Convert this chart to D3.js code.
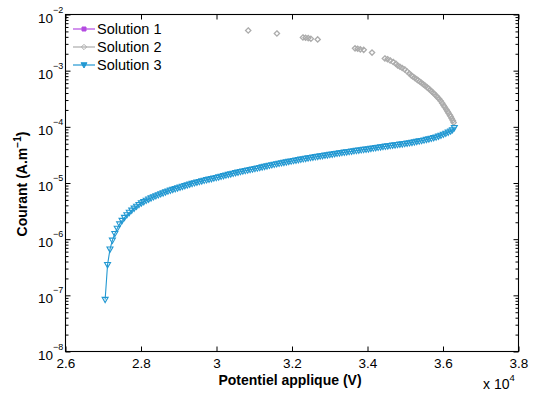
<!DOCTYPE html>
<html><head><meta charset="utf-8">
<script src="https://cdn.jsdelivr.net/npm/d3@7"></script>
<style>
body{margin:0;background:#fff}
svg{display:block}
text{font-family:"Liberation Sans",Arial,Helvetica,sans-serif;fill:#000}
</style>
</head><body>
<svg id="chart" width="535" height="394"></svg>
<script>
// Series names and tick labels
const seriesNames = ["Solution 1", "Solution 2", "Solution 3"];
const xTicks = [26000, 28000, 30000, 32000, 34000, 36000, 38000];
const xTickLabels = ["2.6", "2.8", "3", "3.2", "3.4", "3.6", "3.8"];
const yTickExponents = [-8, -7, -6, -5, -4, -3, -2];

// Solution 3: potential (V) and current (A/m)
const potential3 = [
 27050,27114,27178,27242,27306,27370,27434,27498,27562,27626,27690,27754,27818,27882,27946,28010,
 28074,28138,28202,28266,28330,28394,28458,28522,28586,28650,28714,28778,28842,28906,28970,29034,
 29098,29162,29226,29290,29354,29418,29482,29546,29610,29674,29738,29802,29866,29930,29994,30058,
 30122,30186,30250,30314,30378,30442,30506,30570,30634,30698,30762,30826,30890,30954,31018,31082,
 31146,31210,31274,31338,31402,31466,31530,31594,31658,31722,31786,31850,31914,31978,32042,
 32106,32170,32234,32298,32362,32426,32490,32554,32618,32682,32746,32810,32874,32938,33002,
 33066,33130,33194,33258,33322,33386,33450,33514,33578,33642,33706,33770,33834,33898,33962,34026,
 34090,34154,34218,34282,34346,34410,34474,34538,34602,34666,34730,34794,34858,34922,34986,
 35050,35114,35178,35242,35306,35370,35434,35498,35562,35626,35690,35754,35818,
 35882,35946,36010,36074,36138,36202,36250,36300
];
const courant3 = [
 0.084e-6,0.35e-6,0.66e-6,0.95e-6,1.25e-6,1.55e-6,1.85e-6,2.14e-6,2.42e-6,2.70e-6,2.98e-6,3.26e-6,3.54e-6,3.82e-6,4.10e-6,4.38e-6,
 4.63e-6,4.88e-6,5.13e-6,5.38e-6,5.63e-6,5.88e-6,6.13e-6,6.38e-6,6.63e-6,6.88e-6,7.13e-6,7.38e-6,7.63e-6,7.88e-6,8.13e-6,8.38e-6,
 8.65e-6,8.92e-6,9.19e-6,9.46e-6,9.73e-6,10.0e-6,10.27e-6,10.54e-6,10.81e-6,11.08e-6,11.35e-6,11.62e-6,11.89e-6,12.16e-6,12.43e-6,12.70e-6,
 13.05e-6,13.40e-6,13.75e-6,14.10e-6,14.45e-6,14.80e-6,15.15e-6,15.50e-6,15.85e-6,16.20e-6,16.55e-6,16.90e-6,17.25e-6,17.60e-6,17.95e-6,18.30e-6,
 18.74e-6,19.18e-6,19.62e-6,20.06e-6,20.50e-6,20.94e-6,21.38e-6,21.82e-6,22.26e-6,22.70e-6,23.14e-6,23.58e-6,24.02e-6,24.46e-6,24.90e-6,
 25.37e-6,25.84e-6,26.31e-6,26.78e-6,27.25e-6,27.72e-6,28.19e-6,28.66e-6,29.13e-6,29.60e-6,30.07e-6,30.54e-6,31.01e-6,31.48e-6,31.95e-6,
 32.47e-6,32.99e-6,33.51e-6,34.03e-6,34.55e-6,35.07e-6,35.59e-6,36.11e-6,36.63e-6,37.15e-6,37.67e-6,38.19e-6,38.71e-6,39.23e-6,39.75e-6,40.27e-6,
 40.92e-6,41.57e-6,42.22e-6,42.87e-6,43.52e-6,44.17e-6,44.82e-6,45.47e-6,46.12e-6,46.77e-6,47.42e-6,48.07e-6,48.72e-6,49.37e-6,50.02e-6,
 50.82e-6,51.67e-6,52.57e-6,53.52e-6,54.52e-6,55.57e-6,56.67e-6,57.87e-6,59.17e-6,60.57e-6,62.07e-6,63.67e-6,65.37e-6,
 67.6e-6,70.1e-6,73.0e-6,76.2e-6,79.7e-6,83.4e-6,88.0e-6,96.0e-6
];

// Solution 2: potential (V) and current (A/m)
const potential2 = [
 30840,31600,32290,32360,32430,32500,32680,33670,33740,33810,33900,34120,
 34460,34530,34600,34680,34750,34800,34860,34920,34986,35050,35110,35160,35198,
 35250,35300,35340,35383,35430,35480,35530,35580,35620,35660,35700,35740,35780,
 35820,35860,35900,35940,35980,36018,36050,36090,36123,36150,36180,36203,36230,36260,36282
];
const courant2 = [
 5.2e-3,4.6e-3,3.9e-3,3.85e-3,3.8e-3,3.7e-3,3.6e-3,2.5e-3,2.45e-3,2.4e-3,2.35e-3,2.1e-3,
 1.65e-3,1.6e-3,1.52e-3,1.43e-3,1.33e-3,1.236e-3,1.175e-3,1.114e-3,1.05e-3,9.66e-4,8.87e-4,8.26e-4,7.87e-4,
 7.45e-4,7.05e-4,6.73e-4,6.41e-4,6.07e-4,5.71e-4,5.37e-4,5.05e-4,4.79e-4,4.52e-4,4.27e-4,4.03e-4,3.8e-4,
 3.56e-4,3.33e-4,3.13e-4,2.88e-4,2.64e-4,2.4e-4,2.23e-4,2.03e-4,1.87e-4,1.75e-4,1.62e-4,1.53e-4,1.41e-4,1.29e-4,1.19e-4
];

// Solution 1 has no plotted points, only its legend entry
const potential1 = [];
const courant1 = [];

const colors = ["#b44be1", "#acacac", "#2298d2"];

const svg = d3.select("#chart");
const plotLeft = 65.5, plotRight = 518.5, plotTop = 14.5, plotBottom = 351.5;

const x = d3.scaleLinear().domain([26000, 38000]).range([plotLeft, plotRight]);
const y = d3.scaleLog().domain([1e-8, 1e-2]).range([plotBottom, plotTop]);

// Marker shapes
const triangleDown = { draw(ctx, size) {
  const r = Math.sqrt(size) / 2;
  ctx.moveTo(-r, -r * 0.75); ctx.lineTo(r, -r * 0.75); ctx.lineTo(0, r); ctx.closePath();
}};
const diamond = { draw(ctx, size) {
  const r = Math.sqrt(size) / 2;
  ctx.moveTo(0, -r); ctx.lineTo(r, 0); ctx.lineTo(0, r); ctx.lineTo(-r, 0); ctx.closePath();
}};
const square = { draw(ctx, size) {
  const r = Math.sqrt(size) / 2;
  ctx.rect(-r, -r, 2 * r, 2 * r);
}};

// Axes box and ticks
const g = svg.append("g");
g.append("rect").attr("x", plotLeft).attr("y", plotTop).attr("width", plotRight - plotLeft).attr("height", plotBottom - plotTop)
  .attr("fill", "none").attr("stroke", "#000").attr("stroke-width", 1.1);

const xBottom = d3.axisBottom(x).tickValues(xTicks).tickSize(-5).tickPadding(7)
  .tickFormat((d, i) => xTickLabels[i]);
const gxb = g.append("g").attr("transform", `translate(0,${plotBottom})`).call(xBottom);
gxb.select(".domain").remove();
gxb.selectAll("text").attr("font-size", 13.5).attr("font-family", "Liberation Sans, Arial, sans-serif");

const xTop = d3.axisTop(x).tickValues(xTicks).tickSize(-5).tickFormat("");
const gxt = g.append("g").attr("transform", `translate(0,${plotTop})`).call(xTop);
gxt.select(".domain").remove();

const majorY = yTickExponents.map(e => Math.pow(10, e));
const minorY = [];
yTickExponents.slice(0, -1).forEach(e => { for (let k = 2; k <= 9; k++) minorY.push(k * Math.pow(10, e)); });

[[d3.axisLeft, plotLeft], [d3.axisRight, plotRight]].forEach(([axisFn, pos]) => {
  const major = g.append("g").attr("transform", `translate(${pos},0)`)
    .call(axisFn(y).tickValues(majorY).tickSize(-5).tickFormat(""));
  major.select(".domain").remove();
  const minor = g.append("g").attr("transform", `translate(${pos},0)`)
    .call(axisFn(y).tickValues(minorY).tickSize(-3).tickFormat(""));
  minor.select(".domain").remove();
});

// Y tick labels as powers of ten
yTickExponents.forEach(e => {
  const yy = y(Math.pow(10, e));
  g.append("text").attr("x", 53).attr("y", yy + 8).attr("text-anchor", "end").attr("font-size", 13.5).text("10");
  g.append("text").attr("x", 53).attr("y", yy - 2).attr("font-size", 9).text("\u2212" + Math.abs(e));
});

// Multiplier on the x axis
const mult = g.append("text").attr("x", 483).attr("y", 389).attr("font-size", 14);
mult.append("tspan").text("x 10");
mult.append("tspan").attr("dy", -8).attr("font-size", 9.5).text("4");

// Axis titles
g.append("text").attr("x", (plotLeft + plotRight) / 2 - 2).attr("y", 385).attr("text-anchor", "middle")
  .attr("font-size", 14).attr("font-weight", "bold").text("Potentiel applique (V)");
const yl = g.append("text").attr("transform", `translate(27,${(plotTop + plotBottom) / 2 + 1}) rotate(-90)`)
  .attr("text-anchor", "middle").attr("font-size", 14).attr("font-weight", "bold");
yl.append("tspan").text("Courant (A.m");
yl.append("tspan").attr("dy", -6).attr("font-size", 10).text("\u22121");
yl.append("tspan").attr("dy", 6).text(")");

// Data layers
const plot = svg.append("g");
const line = d3.line().x(d => x(d[0])).y(d => y(d[1]));

const s1 = potential1.map((v, i) => [v, courant1[i]]);
const s2 = potential2.map((v, i) => [v, courant2[i]]);
const s3 = potential3.map((v, i) => [v, courant3[i]]);

// Solution 1
plot.append("path").datum(s1).attr("d", line).attr("fill", "none").attr("stroke", colors[0]).attr("stroke-width", 1);
plot.selectAll(".m1").data(s1).join("path").attr("class", "m1")
  .attr("transform", d => `translate(${x(d[0])},${y(d[1])})`)
  .attr("d", d3.symbol().type(square).size(16)).attr("fill", "none").attr("stroke", colors[0]);

// Solution 2 (markers)
plot.selectAll(".m2").data(s2).join("path").attr("class", "m2")
  .attr("transform", d => `translate(${x(d[0])},${y(d[1])})`)
  .attr("d", d3.symbol().type(diamond).size(28)).attr("fill", "none").attr("stroke", colors[1]).attr("stroke-width", 1.3);

// Solution 3
plot.append("path").datum(s3).attr("d", line).attr("fill", "none").attr("stroke", colors[2]).attr("stroke-width", 1.1);
plot.selectAll(".m3").data(s3).join("path").attr("class", "m3")
  .attr("transform", d => `translate(${x(d[0])},${y(d[1])})`)
  .attr("d", d3.symbol().type(triangleDown).size(36)).attr("fill", "none").attr("stroke", colors[2]).attr("stroke-width", 1.1);

// Legend
const legend = svg.append("g");
const legendMarkers = [square, diamond, triangleDown];
const legendSizes = [16, 28, 36];
seriesNames.forEach((name, i) => {
  const ly = 29 + i * 18;
  legend.append("line").attr("x1", 73).attr("x2", 95).attr("y1", ly).attr("y2", ly)
    .attr("stroke", colors[i]).attr("stroke-width", 1.2);
  legend.append("path").attr("transform", `translate(84,${ly})`)
    .attr("d", d3.symbol().type(legendMarkers[i]).size(legendSizes[i]))
    .attr("fill", i === 1 ? "none" : colors[i]).attr("stroke", colors[i]);
  legend.append("text").attr("x", 97).attr("y", ly + 5).attr("font-size", 14.5).text(name);
});
</script>
</body></html>
